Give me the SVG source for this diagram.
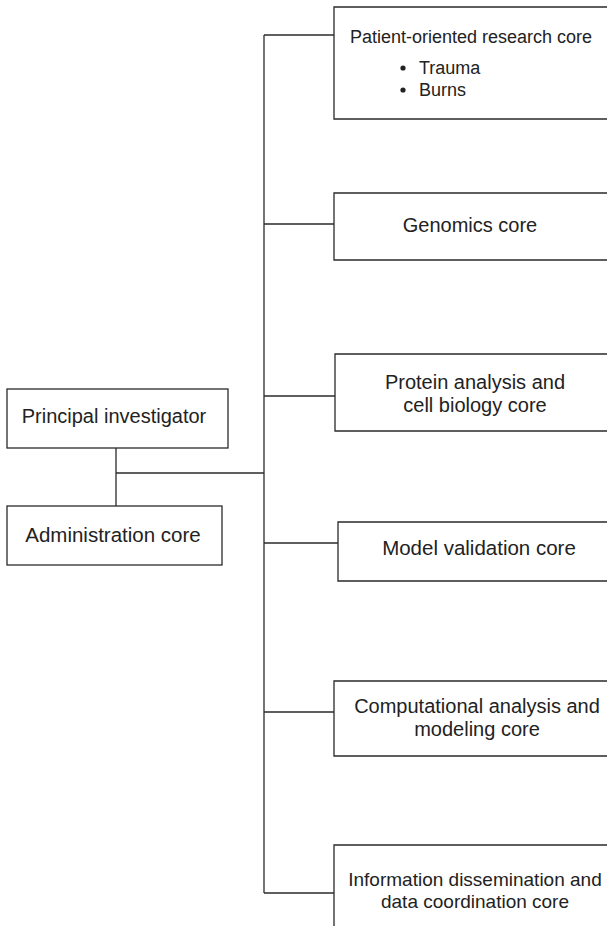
<svg xmlns="http://www.w3.org/2000/svg" width="607" height="926" viewBox="0 0 607 926">
<style>
.box{fill:#fff;stroke:#2a2a2a;stroke-width:1.3}
.ln{fill:none;stroke:#2a2a2a;stroke-width:1.3}
text{font-family:"Liberation Sans",Arial,sans-serif;font-size:20px;fill:#222;text-anchor:middle}
.s{font-size:18px}
.m{font-size:19px}
.b{font-size:20.5px}
.l{text-anchor:start}
</style>
<rect width="607" height="926" fill="#fff"/>
<g id="connectors">
<path class="ln" d="M264,35 V893"/>
<path class="ln" d="M264,35 H334"/>
<path class="ln" d="M264,224 H334"/>
<path class="ln" d="M264,396 H335"/>
<path class="ln" d="M264,543 H338"/>
<path class="ln" d="M264,712 H334"/>
<path class="ln" d="M264,893 H334"/>
<path class="ln" d="M116,448 V506"/>
<path class="ln" d="M116,473 H264"/>
</g>
<g id="patient">
<path class="box" d="M608,7 H334 V119 H608"/>
<text class="s" x="471" y="43">Patient-oriented research core</text>
<circle cx="403" cy="68" r="2.6" fill="#222"/>
<text class="s l" x="419" y="74">Trauma</text>
<circle cx="403" cy="90" r="2.6" fill="#222"/>
<text class="s l" x="419" y="96">Burns</text>
</g>
<g id="genomics">
<path class="box" d="M608,193 H334 V260 H608"/>
<text x="470" y="232">Genomics core</text>
</g>
<g id="protein">
<path class="box" d="M608,354 H335 V431 H608"/>
<text x="475" y="389">Protein analysis and</text>
<text x="475" y="412">cell biology core</text>
</g>
<g id="model">
<path class="box" d="M608,522 H338 V581 H608"/>
<text class="b" x="479" y="555">Model validation core</text>
</g>
<g id="computational">
<path class="box" d="M608,681 H334 V756 H608"/>
<text x="477" y="713">Computational analysis and</text>
<text x="477" y="736">modeling core</text>
</g>
<g id="information">
<path class="box" d="M608,845 H334 V927"/>
<text class="m" x="475" y="886">Information dissemination and</text>
<text class="m" x="475" y="908">data coordination core</text>
</g>
<g id="pi">
<rect class="box" x="7" y="389" width="221" height="59"/>
<text x="114" y="423">Principal investigator</text>
</g>
<g id="admin">
<rect class="box" x="7" y="506" width="215" height="59"/>
<text class="b" x="113" y="542">Administration core</text>
</g>
</svg>
